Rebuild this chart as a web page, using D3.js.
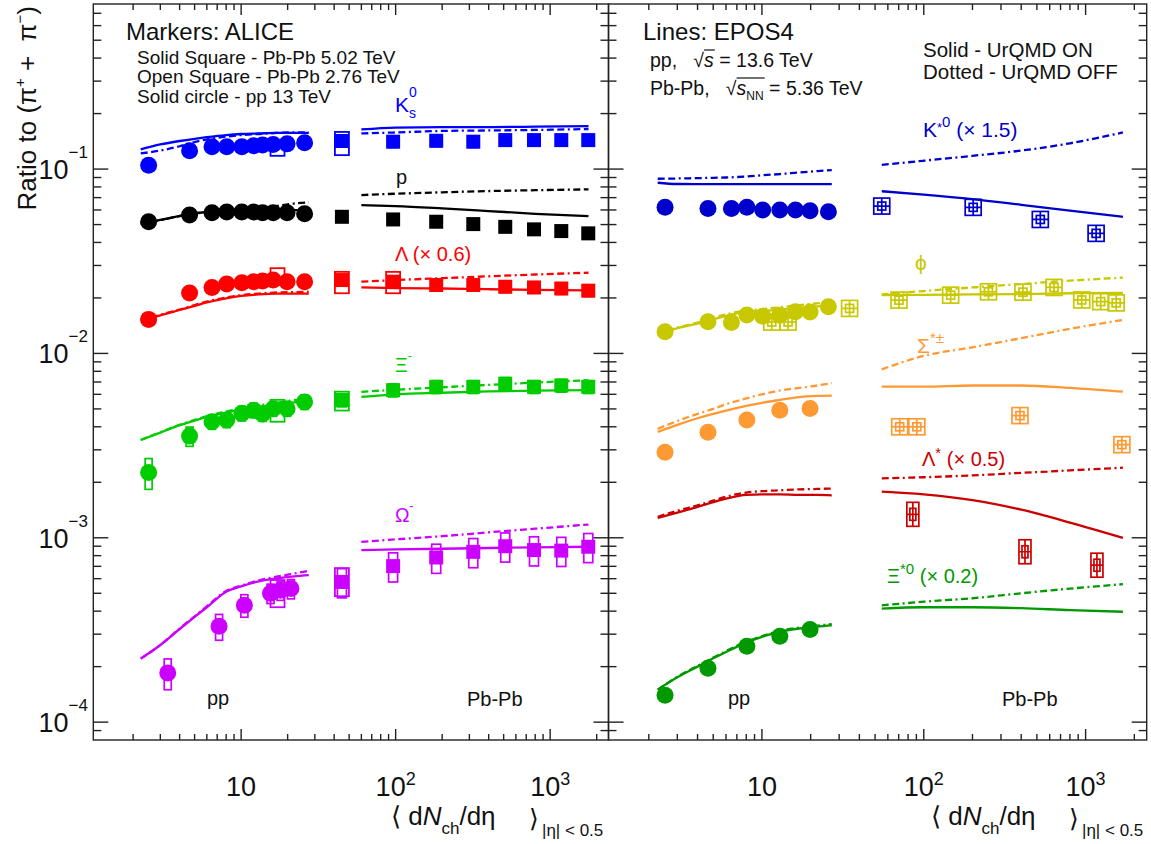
<!DOCTYPE html>
<html><head><meta charset="utf-8">
<script src="https://cdnjs.cloudflare.com/ajax/libs/d3/7.8.5/d3.min.js"></script>
<style>
html,body{margin:0;padding:0;background:#fff;}
svg{display:block;}
text{font-family:"Liberation Sans",Arial,Helvetica,sans-serif;white-space:pre;}
</style></head>
<body><svg id="chart" width="1151" height="844"></svg>
<script>
// ===================== DATA =====================
// axis ticks
const majorX = [10, 100, 1000];
const minorX = [2,3,4,5,6,7,8,9,20,30,40,50,60,70,80,90,200,300,400,500,600,700,800,900,2000];
const majorY = [1e-4, 1e-3, 1e-2, 1e-1];
const minorY = [9e-5,2e-4,3e-4,4e-4,5e-4,6e-4,7e-4,8e-4,9e-4,2e-3,3e-3,4e-3,5e-3,6e-3,7e-3,8e-3,9e-3,2e-2,3e-2,4e-2,5e-2,6e-2,7e-2,8e-2,9e-2,0.2,0.3,0.4,0.5,0.6,0.7];
const xTickLabels = [["10",""],["10","2"],["10","3"]];
const yTickLabels = [["10","\u22124"],["10","\u22123"],["10","\u22122"],["10","\u22121"]];

// ---------- LEFT PANEL (ALICE markers + EPOS4 lines) ----------
const ppMultL = [2.52, 4.64, 6.48, 8.07, 10.11, 12.06, 13.76, 16.12, 19.83, 25.75];
const pbMultL = [44.9, 96.3, 183, 318, 512, 786, 1180, 1764];
const omegaMultPP = [3.35, 7.2, 10.5, 15.5, 18, 21];
const lineXppL = [2.24, 3, 4, 5, 6, 8, 10, 13, 17, 22, 27.4];
const lineXpbL = [60, 100, 200, 400, 800, 1770];

// pp 13 TeV (solid circles)
const k0sPP    = [0.105, 0.1257, 0.132, 0.132, 0.132, 0.1338, 0.1349, 0.136, 0.137, 0.139];
const protonPP = [0.0518, 0.0563, 0.058, 0.0585, 0.0585, 0.0585, 0.058, 0.058, 0.058, 0.0572];
const lambdaPP = [0.0153, 0.0213, 0.0228, 0.0238, 0.0242, 0.0245, 0.0247, 0.025, 0.0245, 0.0245];
const xiPP     = [0.00226, 0.00356, 0.00426, 0.00435, 0.00473, 0.00492, 0.0047, 0.00501, 0.00501, 0.00546];
const omegaPP  = [0.000185, 0.000331, 0.000431, 0.0005, 0.00052, 0.00053];
const xiPPsys    = [0.19, 0.12, 0.09, 0.09, 0.09, 0.09, 0.09, 0.09, 0.09, 0.09];
const omegaPPsys = [0.19, 0.16, 0.14, 0.12, 0.12, 0.12];

// Pb-Pb 5.02 TeV (solid squares)
const k0sPb    = [0.142, 0.1408, 0.1424, 0.1408, 0.1436, 0.1436, 0.1436, 0.1436];
const protonPb = [0.0551, 0.0533, 0.0518, 0.0503, 0.0486, 0.0471, 0.0461, 0.0448];
const lambdaPb = [0.025, 0.0245, 0.0235, 0.0235, 0.023, 0.0228, 0.0225, 0.0219];
const xiPb     = [0.00558, 0.00632, 0.00659, 0.00659, 0.00685, 0.00659, 0.0067, 0.00659];
const omegaPb  = [0.000576, 0.000702, 0.000782, 0.000839, 0.0009, 0.000858, 0.000852, 0.000894];
const pbSysFrac = {k0s: 0.07, p: 0.05, lambda: 0.07, xi: 0.08, omega: 0.18};

// Pb-Pb 2.76 TeV (open squares): [mult, low, high]
const k0sOpen    = [[17.2, 0.118, 0.131], [44.9, 0.119, 0.159]];
const lambdaOpen = [[17.2, 0.0235, 0.029], [44.9, 0.0212, 0.0277], [96.3, 0.0212, 0.0277]];
const xiOpen     = [[17.2, 0.00426, 0.0056], [44.9, 0.0049, 0.0062]];
const omegaOpen  = [[17.2, 0.00042, 0.00059], [44.9, 0.000482, 0.000685]];

// EPOS4 lines, pp region (ON = solid, OFF = dotted)
const k0sLppOn     = [0.128, 0.136, 0.142, 0.146, 0.149, 0.153, 0.155, 0.156, 0.157, 0.157, 0.157];
const k0sLppOff    = [0.1217, 0.126, 0.133, 0.14, 0.145, 0.15, 0.153, 0.155, 0.157, 0.158, 0.158];
const protonLppOn  = [0.0507, 0.053, 0.0558, 0.0575, 0.0585, 0.059, 0.0592, 0.0595, 0.0597, 0.0599, 0.0599];
const protonLppOff = [0.0505, 0.0528, 0.0556, 0.0575, 0.0587, 0.0595, 0.06, 0.061, 0.063, 0.065, 0.066];
const lambdaLppOn  = [0.0152, 0.0161, 0.0172, 0.0181, 0.0189, 0.0199, 0.0205, 0.0209, 0.0211, 0.0211, 0.0211];
const lambdaLppOff = [0.0152, 0.0162, 0.0173, 0.0183, 0.0191, 0.0201, 0.0207, 0.0211, 0.0214, 0.0215, 0.0216];
const xiLppOn      = [0.00339, 0.00372, 0.00408, 0.00432, 0.00452, 0.00478, 0.00495, 0.00512, 0.00527, 0.00542, 0.00552];
const xiLppOff     = [0.00339, 0.00374, 0.0041, 0.00436, 0.00457, 0.00484, 0.00502, 0.00522, 0.0054, 0.00558, 0.0057];
const omegaLppOn   = [0.000221, 0.000262, 0.00032, 0.000372, 0.00042, 0.00051, 0.000545, 0.00058, 0.000603, 0.000618, 0.000627];
const omegaLppOff  = [0.000221, 0.000262, 0.000322, 0.000375, 0.000425, 0.000515, 0.00055, 0.000588, 0.000615, 0.00064, 0.000662];
// EPOS4 lines, Pb-Pb region
const k0sLpbOn     = [0.164, 0.168, 0.169, 0.169, 0.17, 0.171];
const k0sLpbOff    = [0.156, 0.158, 0.161, 0.162, 0.163, 0.165];
const protonLpbOn  = [0.0638, 0.063, 0.0612, 0.0592, 0.0572, 0.0556];
const protonLpbOff = [0.0723, 0.0735, 0.0748, 0.076, 0.0768, 0.0776];
const lambdaLpbOn  = [0.0228, 0.0226, 0.0225, 0.0223, 0.0221, 0.022];
const lambdaLpbOff = [0.0245, 0.025, 0.0256, 0.0262, 0.0268, 0.0274];
const xiLpbOn      = [0.00581, 0.006, 0.00612, 0.00622, 0.00628, 0.00632];
const xiLpbOff     = [0.00619, 0.00635, 0.00655, 0.00675, 0.00695, 0.00716];
const omegaLpbOn   = [0.000858, 0.000865, 0.000872, 0.00088, 0.000888, 0.000894];
const omegaLpbOff  = [0.000951, 0.00098, 0.00102, 0.00107, 0.00112, 0.00118];

// ---------- RIGHT PANEL (resonances) ----------
const ppMultR  = [2.52, 4.64, 6.48, 8.07, 10.11, 12.9, 16.12, 19.83, 25.75];
const ppMultR5 = [2.52, 4.64, 8.07, 12.9, 19.83];
const lineXppR = [2.27, 3, 4, 5, 6, 8, 10, 13, 17, 22, 27];
const lineXpbR = [55, 100, 200, 400, 800, 1700];

const kstarPP = [0.062, 0.0612, 0.0612, 0.062, 0.0599, 0.06, 0.06, 0.0594, 0.0586];
const phiPP   = [0.0131, 0.01484, 0.0147, 0.01614, 0.0159, 0.0161, 0.01683, 0.0168, 0.0179];
const sigmaPP = [0.00291, 0.00374, 0.00435, 0.00492, 0.00503];
const xistarPP = [0.00014, 0.000196, 0.000258, 0.000292, 0.000318];

const kstarPbMult = [55, 202, 525, 1161];
const kstarPb     = [0.063, 0.062, 0.0533, 0.0448];
const phiPbMult   = [34.8, 70.3, 146.6, 251, 410, 638, 946, 1239, 1545];
const phiPb       = [0.01755, 0.01946, 0.0207, 0.0216, 0.0215, 0.0228, 0.0195, 0.0191, 0.0188];
const phiOpenMult = [11.5, 14.5];
const phiOpen     = [0.0148, 0.0148];
const sigmaPbMult = [71, 90.6, 393, 1675];
const sigmaPb     = [0.004, 0.004, 0.0046, 0.0032];
const lstarPbMult = [85.6, 422, 1175];
const lstarPb     = [0.00134, 0.00084, 0.00071];

const kstarLppOn   = [0.0843, 0.083, 0.0829, 0.0829, 0.0829, 0.0829, 0.0829, 0.0829, 0.0829, 0.0829, 0.0829];
const kstarLppOff  = [0.0886, 0.0889, 0.0893, 0.0897, 0.09, 0.0912, 0.0925, 0.094, 0.0958, 0.0975, 0.0988];
const phiLppOn     = [0.01257, 0.0137, 0.0145, 0.0153, 0.016, 0.0168, 0.017, 0.0173, 0.0177, 0.018, 0.0183];
const phiLppOff    = [0.0126, 0.0138, 0.0147, 0.0156, 0.0163, 0.0171, 0.0174, 0.0178, 0.0183, 0.0187, 0.0191];
const sigmaLppOn   = [0.00375, 0.0041, 0.00445, 0.0047, 0.0049, 0.0052, 0.0054, 0.0056, 0.0058, 0.00588, 0.0059];
const sigmaLppOff  = [0.0039, 0.0043, 0.0047, 0.005, 0.0053, 0.0057, 0.006, 0.0063, 0.0065, 0.0067, 0.0069];
const lstarLppOn   = [0.00128, 0.00137, 0.00147, 0.00156, 0.00163, 0.00171, 0.00172, 0.00172, 0.00171, 0.00171, 0.0017];
const lstarLppOff  = [0.0013, 0.0014, 0.0015, 0.00159, 0.00167, 0.00176, 0.00179, 0.00181, 0.00183, 0.00184, 0.00185];
const xistarLppOn  = [0.00015, 0.000175, 0.0002, 0.000222, 0.00024, 0.00027, 0.00029, 0.00031, 0.000322, 0.00033, 0.000335];
const xistarLppOff = [0.00015, 0.000176, 0.000202, 0.000224, 0.000243, 0.000273, 0.000293, 0.000313, 0.000326, 0.000334, 0.00034];

const kstarLpbOn   = [0.0758, 0.0727, 0.0687, 0.064, 0.0595, 0.0551];
const kstarLpbOff  = [0.1055, 0.111, 0.118, 0.126, 0.138, 0.158];
const phiLpbOn     = [0.0207, 0.0208, 0.0209, 0.021, 0.0212, 0.0213];
const phiLpbOff    = [0.0209, 0.0218, 0.0228, 0.0238, 0.0248, 0.0258];
const sigmaLpbOn   = [0.0066, 0.0066, 0.0067, 0.0067, 0.0065, 0.0062];
const sigmaLpbOff  = [0.0082, 0.0097, 0.0108, 0.0121, 0.0136, 0.0152];
const lstarLpbOn   = [0.00178, 0.00172, 0.0016, 0.00142, 0.00121, 0.001];
const lstarLpbOff  = [0.0021, 0.00213, 0.00218, 0.00225, 0.00232, 0.0024];
const xistarLpbOn  = [0.000413, 0.00042, 0.00042, 0.000415, 0.000405, 0.000397];
const xistarLpbOff = [0.00043, 0.00045, 0.00047, 0.0005, 0.00053, 0.00056];

// ===================== DRAWING =====================
const C = {k0s:'#0000ff', p:'#000000', lambda:'#ff0000', xi:'#00cc00', omega:'#cc00ff',
           kstar:'#0000cc', phi:'#c8c800', sigma:'#ff9933', lstar:'#cc0000', xistar:'#009900'};
const svg = d3.select('#chart');
const Y0 = 4, Y1 = 740;
const yS = d3.scaleLog().domain([8e-5, 0.786]).range([Y1, Y0]);
const xL = d3.scaleLog().domain([1.105, 2385]).range([93.3, 608.5]);
const xR = d3.scaleLog().domain([1.127, 2385]).range([608.5, 1146.7]);

const defs = svg.append('defs');
[['clipL', xL], ['clipR', xR]].forEach(([id, xs]) => {
  const r = xs.range();
  defs.append('clipPath').attr('id', id).append('rect')
    .attr('x', r[0]).attr('y', Y0).attr('width', r[1] - r[0]).attr('height', Y1 - Y0);
});
const gL = svg.append('g').attr('clip-path', 'url(#clipL)');
const gR = svg.append('g').attr('clip-path', 'url(#clipR)');

const DASH = '7,3.5,7,3.5,2,3.5';
function curve(g, xs, mx, vals, color, dashed) {
  const line = d3.line().x(d => xs(d[0])).y(d => yS(d[1])).curve(d3.curveMonotoneX);
  g.append('path').datum(mx.map((m, i) => [m, vals[i]])).attr('d', line)
    .attr('fill', 'none').attr('stroke', color).attr('stroke-width', 2.3)
    .attr('stroke-dasharray', dashed ? DASH : null);
}
function circles(g, xs, mx, vals, color, r) {
  g.selectAll(null).data(mx.map((m, i) => [m, vals[i]])).enter().append('circle')
    .attr('cx', d => xs(d[0])).attr('cy', d => yS(d[1])).attr('r', r || 8.5).attr('fill', color);
}
function sysBoxes(g, xs, mx, vals, frac, color, w) {
  const fr = typeof frac === 'number' ? mx.map(() => frac) : frac;
  g.selectAll(null).data(mx.map((m, i) => [m, vals[i], fr[i]])).enter().append('rect')
    .attr('x', d => xs(d[0]) - w / 2).attr('y', d => yS(d[1] * (1 + d[2])))
    .attr('width', w).attr('height', d => yS(d[1] * (1 - d[2])) - yS(d[1] * (1 + d[2])))
    .attr('fill', 'none').attr('stroke', color).attr('stroke-width', 1.7);
}
function squares(g, xs, mx, vals, color, s) {
  s = s || 14;
  g.selectAll(null).data(mx.map((m, i) => [m, vals[i]])).enter().append('rect')
    .attr('x', d => xs(d[0]) - s / 2).attr('y', d => yS(d[1]) - s / 2)
    .attr('width', s).attr('height', s).attr('fill', color);
}
function openBoxes(g, xs, arr, color, w) {
  w = w || 14;
  g.selectAll(null).data(arr).enter().append('rect')
    .attr('x', d => xs(d[0]) - w / 2).attr('y', d => yS(d[2]))
    .attr('width', w).attr('height', d => yS(d[1]) - yS(d[2]))
    .attr('fill', 'none').attr('stroke', color).attr('stroke-width', 1.8);
}
function crossSquares(g, xs, mx, vals, color, w, h) {
  w = w || 16; h = h || 16;
  mx.forEach((m, i) => {
    const cx = xs(m), cy = yS(vals[i]);
    const gg = g.append('g').attr('stroke', color).attr('fill', 'none').attr('stroke-width', 1.7);
    gg.append('rect').attr('x', cx - w / 2).attr('y', cy - h / 2).attr('width', w).attr('height', h);
    gg.append('rect').attr('x', cx - w / 4).attr('y', cy - h / 4).attr('width', w / 2).attr('height', h / 2);
    gg.append('line').attr('x1', cx).attr('x2', cx).attr('y1', cy - h / 2).attr('y2', cy + h / 2);
    gg.append('line').attr('x1', cx - w / 2).attr('x2', cx + w / 2).attr('y1', cy).attr('y2', cy);
  });
}

// ----- left panel -----
[[k0sLppOn, k0sLppOff, C.k0s], [protonLppOn, protonLppOff, C.p], [lambdaLppOn, lambdaLppOff, C.lambda],
 [xiLppOn, xiLppOff, C.xi], [omegaLppOn, omegaLppOff, C.omega]].forEach(([on, off, c]) => {
  curve(gL, xL, lineXppL, off, c, true); curve(gL, xL, lineXppL, on, c, false);
});
[[k0sLpbOn, k0sLpbOff, C.k0s], [protonLpbOn, protonLpbOff, C.p], [lambdaLpbOn, lambdaLpbOff, C.lambda],
 [xiLpbOn, xiLpbOff, C.xi], [omegaLpbOn, omegaLpbOff, C.omega]].forEach(([on, off, c]) => {
  curve(gL, xL, lineXpbL, off, c, true); curve(gL, xL, lineXpbL, on, c, false);
});
openBoxes(gL, xL, k0sOpen, C.k0s); openBoxes(gL, xL, lambdaOpen, C.lambda);
openBoxes(gL, xL, xiOpen, C.xi); openBoxes(gL, xL, omegaOpen, C.omega);
sysBoxes(gL, xL, ppMultL, xiPP, xiPPsys, C.xi, 7);
sysBoxes(gL, xL, omegaMultPP, omegaPP, omegaPPsys, C.omega, 7);
sysBoxes(gL, xL, pbMultL, k0sPb, pbSysFrac.k0s, C.k0s, 9);
sysBoxes(gL, xL, pbMultL, protonPb, pbSysFrac.p, C.p, 9);
sysBoxes(gL, xL, pbMultL, lambdaPb, pbSysFrac.lambda, C.lambda, 9);
sysBoxes(gL, xL, pbMultL, xiPb, pbSysFrac.xi, C.xi, 9);
sysBoxes(gL, xL, pbMultL, omegaPb, pbSysFrac.omega, C.omega, 9);
circles(gL, xL, ppMultL, k0sPP, C.k0s); circles(gL, xL, ppMultL, protonPP, C.p);
circles(gL, xL, ppMultL, lambdaPP, C.lambda); circles(gL, xL, ppMultL, xiPP, C.xi);
circles(gL, xL, omegaMultPP, omegaPP, C.omega);
squares(gL, xL, pbMultL, k0sPb, C.k0s); squares(gL, xL, pbMultL, protonPb, C.p);
squares(gL, xL, pbMultL, lambdaPb, C.lambda); squares(gL, xL, pbMultL, xiPb, C.xi);
squares(gL, xL, pbMultL, omegaPb, C.omega);

// ----- right panel -----
[[kstarLppOn, kstarLppOff, C.kstar], [phiLppOn, phiLppOff, C.phi], [sigmaLppOn, sigmaLppOff, C.sigma],
 [lstarLppOn, lstarLppOff, C.lstar], [xistarLppOn, xistarLppOff, C.xistar]].forEach(([on, off, c]) => {
  curve(gR, xR, lineXppR, off, c, true); curve(gR, xR, lineXppR, on, c, false);
});
[[kstarLpbOn, kstarLpbOff, C.kstar], [phiLpbOn, phiLpbOff, C.phi], [sigmaLpbOn, sigmaLpbOff, C.sigma],
 [lstarLpbOn, lstarLpbOff, C.lstar], [xistarLpbOn, xistarLpbOff, C.xistar]].forEach(([on, off, c]) => {
  curve(gR, xR, lineXpbR, off, c, true); curve(gR, xR, lineXpbR, on, c, false);
});
circles(gR, xR, ppMultR, kstarPP, C.kstar); circles(gR, xR, ppMultR, phiPP, C.phi);
circles(gR, xR, ppMultR5, sigmaPP, C.sigma); circles(gR, xR, ppMultR5, xistarPP, C.xistar);
crossSquares(gR, xR, phiOpenMult, phiOpen, C.phi, 16, 16);
crossSquares(gR, xR, kstarPbMult, kstarPb, C.kstar, 16, 16);
crossSquares(gR, xR, phiPbMult, phiPb, C.phi, 16, 16);
crossSquares(gR, xR, sigmaPbMult, sigmaPb, C.sigma, 16, 16);
crossSquares(gR, xR, lstarPbMult, lstarPb, C.lstar, 12, 24);

// ----- frames & ticks -----
const AX = '#222';
function frame(xs) {
  const [x0, x1] = xs.range();
  const g = svg.append('g').attr('stroke', AX).attr('stroke-width', 1.4);
  g.append('rect').attr('x', x0).attr('y', Y0).attr('width', x1 - x0).attr('height', Y1 - Y0).attr('fill', 'none');
  const ln = (a, b, c, d) => g.append('line').attr('x1', a).attr('y1', b).attr('x2', c).attr('y2', d);
  majorX.forEach(v => { const x = xs(v); ln(x, Y1, x, Y1 - 11); ln(x, Y0, x, Y0 + 11); });
  minorX.forEach(v => { const x = xs(v); ln(x, Y1, x, Y1 - 6); ln(x, Y0, x, Y0 + 6); });
  majorY.forEach(v => { const y = yS(v); ln(x0, y, x0 + 15, y); ln(x1, y, x1 - 15, y); });
  minorY.forEach(v => { const y = yS(v); ln(x0, y, x0 + 8, y); ln(x1, y, x1 - 8, y); });
}
frame(xL); frame(xR);

// ----- text helpers -----
function rtext(x, y, parts, o) {
  o = o || {};
  const t = svg.append('text').attr('x', x).attr('y', y)
    .attr('font-size', o.size || 20).attr('fill', o.fill || '#111')
    .attr('text-anchor', o.anchor || 'start');
  let cur = 0;
  parts.forEach(p => {
    if (typeof p === 'string') p = {t: p};
    const s = t.append('tspan').text(p.t);
    const off = p.dy || 0;
    if (off !== cur) s.attr('dy', off - cur);
    cur = off;
    if (p.size) s.attr('font-size', p.size);
    if (p.it) s.attr('font-style', 'italic');
    if (p.x != null) s.attr('x', p.x);
  });
  return t;
}
function overline(t, i0, i1, y) {
  const n = t.node();
  const xa = n.getStartPositionOfChar(i0).x, xb = n.getEndPositionOfChar(i1).x;
  svg.append('line').attr('x1', xa).attr('x2', xb + 1).attr('y1', y).attr('y2', y)
    .attr('stroke', '#111').attr('stroke-width', 1.2);
}

// tick labels
majorY.forEach((v, i) => {
  rtext(88, yS(v) + 10, [yTickLabels[i][0], {t: yTickLabels[i][1], size: 17, dy: -21}], {size: 27, anchor: 'end'});
});
[xL, xR].forEach(xs => majorX.forEach((v, i) => {
  const lab = xTickLabels[i];
  const parts = [lab[0]];
  if (lab[1]) parts.push({t: lab[1], size: 18, dy: -11});
  rtext(xs(v), 796, parts, {size: 27, anchor: 'middle'});
}));

// axis titles
svg.append('text').attr('transform', 'translate(36,6) rotate(-90)').attr('text-anchor', 'end')
  .attr('font-size', 26).attr('fill', '#111')
  .call(t => {
    t.append('tspan').text('Ratio to (\u03c0');
    t.append('tspan').text('+').attr('font-size', 15).attr('dy', -11);
    t.append('tspan').text(' +  \u03c0').attr('dy', 11);
    t.append('tspan').text('\u2212').attr('font-size', 15).attr('dy', -11);
    t.append('tspan').text(')').attr('dy', 11);
  });
[0, 540].forEach(off => {
  rtext(391 + off, 825, ['\u27e8 d', {t: 'N', it: true}, {t: 'ch', size: 17, dy: 9}, {t: '/d\u03b7', dy: 0}], {size: 26});
  rtext(529 + off, 827, ['\u27e9'], {size: 25});
  rtext(542 + off, 836, ['|\u03b7| < 0.5'], {size: 17});
});

// left panel labels
rtext(126, 40, ['Markers: ALICE'], {size: 24});
rtext(137, 64, ['Solid Square - Pb-Pb 5.02 TeV'], {size: 19});
rtext(137, 83, ['Open Square - Pb-Pb 2.76 TeV'], {size: 19});
rtext(137, 103, ['Solid circle - pp 13 TeV'], {size: 19});
rtext(395, 112, ['K'], {size: 21, fill: C.k0s});
rtext(409, 97, ['0'], {size: 14, fill: C.k0s});
rtext(409, 118, ['s'], {size: 14, fill: C.k0s});
rtext(396, 184, ['p'], {size: 20});
rtext(395, 261, ['\u039b (\u00d7 0.6)'], {size: 20, fill: C.lambda});
rtext(395, 372, ['\u039e', {t: '-', size: 12, dy: -12}], {size: 19.5, fill: C.xi});
rtext(395, 522, ['\u03a9', {t: '-', size: 12, dy: -12}], {size: 19.5, fill: C.omega});
rtext(207, 705, ['pp'], {size: 20});
rtext(467, 706, ['Pb-Pb'], {size: 20});

// right panel labels
rtext(643, 40, ['Lines: EPOS4'], {size: 24});
const t1 = rtext(650, 67, ['pp,   \u221a', {t: 's', it: true}, ' = 13.6 TeV'], {size: 19.5});
overline(t1, 7, 7, 50);
const t2 = rtext(650, 95, ['Pb-Pb,   \u221a', {t: 's', it: true}, {t: 'NN', size: 12, dy: 5}, {t: ' = 5.36 TeV', dy: 0}], {size: 19.5});
overline(t2, 10, 12, 78);
rtext(923, 57, ['Solid - UrQMD ON'], {size: 20.5});
rtext(923, 79, ['Dotted - UrQMD OFF'], {size: 20.5});
rtext(923, 137, ['K', {t: '*', size: 13, dy: -5}, {t: '0', size: 15, dy: -10}, {t: ' (\u00d7 1.5)', dy: 0}], {size: 21, fill: C.kstar});
rtext(915, 270, ['\u03d5'], {size: 21, fill: C.phi});
rtext(917, 353, ['\u03a3', {t: '*\u00b1', size: 15, dy: -10}], {size: 21, fill: C.sigma});
rtext(922, 466, ['\u039b', {t: '*', size: 15, dy: -8}, {t: ' (\u00d7 0.5)', dy: 0}], {size: 20, fill: C.lstar});
rtext(887, 583, ['\u039e', {t: '*0', size: 15, dy: -9}, {t: ' (\u00d7 0.2)', dy: 0}], {size: 20, fill: C.xistar});
rtext(728, 705, ['pp'], {size: 20});
rtext(1002, 706, ['Pb-Pb'], {size: 20});
</script></body></html>
